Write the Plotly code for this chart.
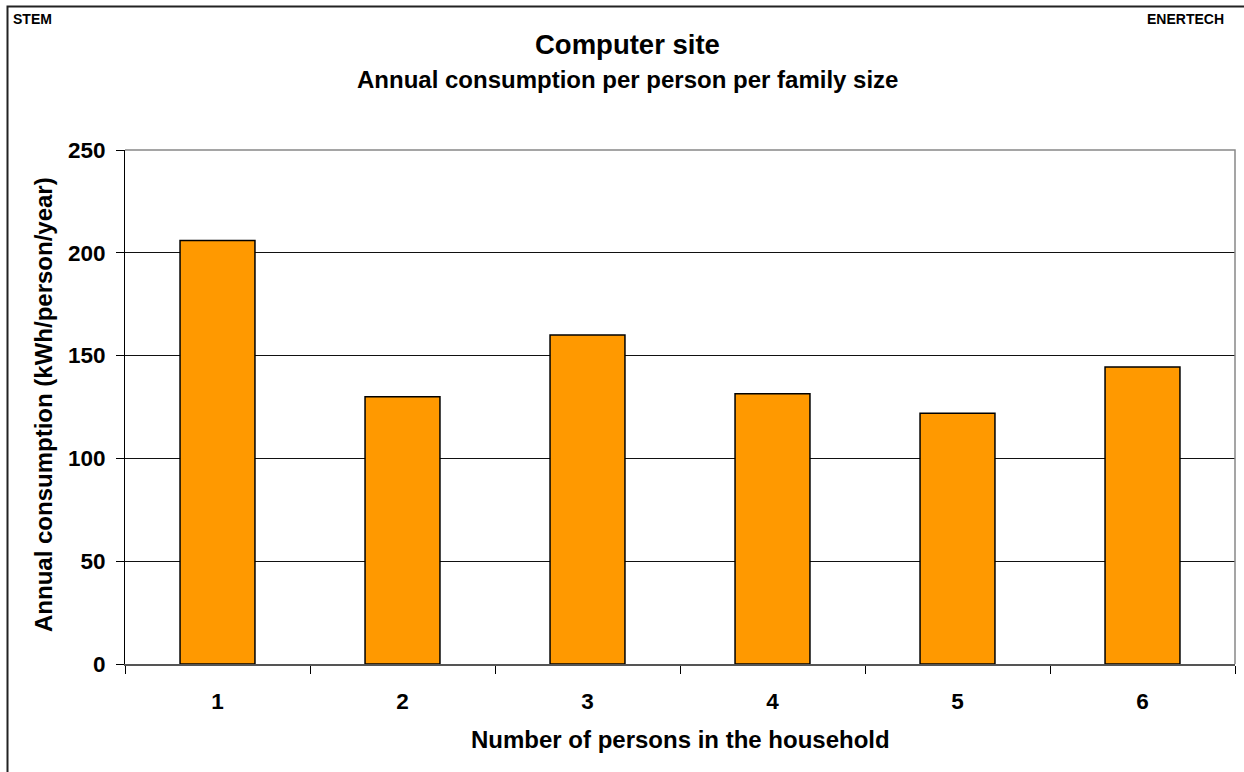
import plotly.graph_objects as go

categories = ["1", "2", "3", "4", "5", "6"]
consumption = [206, 130, 160, 131.5, 122, 144.5]
y_ticks = [0, 50, 100, 150, 200, 250]

FONT = "Liberation Sans, Arial, sans-serif"
W, H = 1244, 772
L, R, T, B = 125, 9, 150, 108
pw, ph = W - L - R, H - T - B


def px(x):
    """picture x pixel -> paper coordinate"""
    return (x - L) / pw


def py(y):
    """picture y pixel -> paper coordinate"""
    return (H - B - y) / ph


tickfont = dict(family=FONT, size=22.5, color="black", weight="bold")

fig = go.Figure()
fig.add_trace(go.Bar(
    x=categories, y=consumption,
    marker=dict(color="#FF9900", line=dict(color="#000000", width=1.5)),
    showlegend=False, hoverinfo="x+y",
))

fig.update_layout(
    width=W, height=H,
    margin=dict(l=L, r=R, t=T, b=B),
    paper_bgcolor="white", plot_bgcolor="white",
    bargap=0.595,
    font=dict(family=FONT, color="black"),
    xaxis=dict(
        type="category", showgrid=False,
        showline=True, linecolor="#555555", linewidth=2,
        ticks="outside", tickson="boundaries", ticklen=8, tickcolor="black", tickwidth=1,
        tickfont=tickfont,
        ticklabelstandoff=16,
    ),
    yaxis=dict(
        range=[0, 250], tickvals=y_ticks,
        showgrid=True, gridcolor="#111111", gridwidth=1,
        showline=True, linecolor="black", linewidth=1,
        ticks="outside", ticklen=8, tickcolor="black", tickwidth=1,
        tickfont=tickfont,
        ticklabelstandoff=6, zeroline=False,
    ),
    shapes=[
        dict(type="path", xref="paper", yref="paper",
             path="M 0 1 L 1 1 L 1 0", line=dict(color="#888888", width=1.5), layer="above"),
        dict(type="path", xref="paper", yref="paper",
             path=f"M {px(1300)} {py(6.5)} L {px(7.5)} {py(6.5)} L {px(7.5)} {py(800)}",
             line=dict(color="#222222", width=2), layer="above"),
    ],
    annotations=[
        dict(text="<b>Computer site</b>", xref="paper", yref="paper", x=px(627), y=py(44),
             xanchor="center", yanchor="middle", showarrow=False,
             font=dict(family=FONT, size=27.5, color="black")),
        dict(text="<b>Annual consumption per person per family size</b>", xref="paper", yref="paper",
             x=px(627), y=py(79.5), xanchor="center", yanchor="middle", showarrow=False,
             font=dict(family=FONT, size=24, color="black")),
        dict(text="<b>STEM</b>", xref="paper", yref="paper", x=px(11), y=py(18.5),
             xanchor="left", yanchor="middle", showarrow=False,
             font=dict(family=FONT, size=14, color="black")),
        dict(text="<b>ENERTECH</b>", xref="paper", yref="paper", x=px(1226), y=py(18.5),
             xanchor="right", yanchor="middle", showarrow=False,
             font=dict(family=FONT, size=14, color="black")),
        dict(text="<b>Annual consumption (kWh/person/year)</b>", xref="paper", yref="paper",
             x=px(43), y=py(405), xanchor="center", yanchor="middle", textangle=-90, showarrow=False,
             font=dict(family=FONT, size=24, color="black")),
        dict(text="<b>Number of persons in the household</b>", xref="paper", yref="paper",
             x=px(680), y=py(739), xanchor="center", yanchor="middle", showarrow=False,
             font=dict(family=FONT, size=24, color="black")),
    ],
)

fig.write_html("out.html", config={"displayModeBar": False},
               post_script="document.body.style.margin='0';")
